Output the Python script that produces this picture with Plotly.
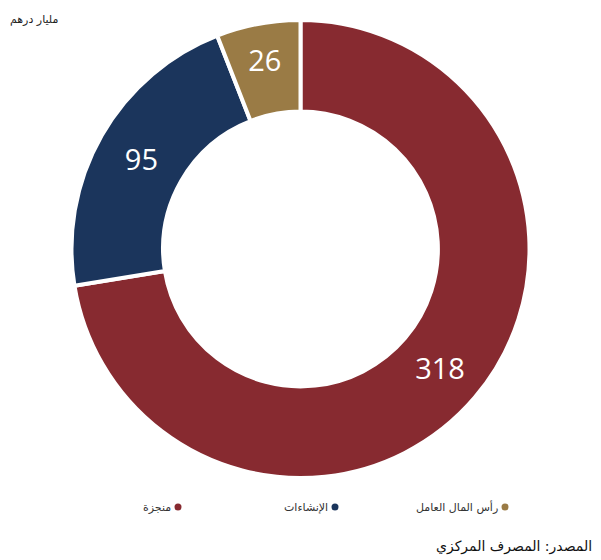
import plotly.graph_objects as go

labels = ["منجزة", "الإنشاءات", "رأس المال العامل"]
values = [318, 95, 26]
colors = ["#872a30", "#1b355c", "#9a7b45"]

W, H = 601, 560

fig = go.Figure(go.Pie(
    labels=labels, values=values, hole=0.6, sort=False, direction="clockwise",
    rotation=0,
    marker=dict(colors=colors, line=dict(color="white", width=4)),
    textinfo="value", textposition="inside", insidetextorientation="horizontal",
    textfont=dict(color="white", size=29, family="Open Sans"),
    domain=dict(x=[71 / W, 530 / W], y=[1 - 478 / H, 1 - 20 / H]),
    showlegend=False, hoverinfo="label+value",
))

anns = [
    dict(text="مليار درهم", x=60 / W, y=1 - 20 / H, xanchor="right", yanchor="middle",
         font=dict(size=11, color="#222", family="DejaVu Sans")),
    dict(text="المصدر: المصرف المركزي", x=594 / W, y=1 - 546 / H, xanchor="right", yanchor="middle",
         font=dict(size=14, color="#111", family="DejaVu Sans")),
]
legend_pos = [178, 335, 505]
for lab, col, mx in zip(labels, colors, legend_pos):
    anns.append(dict(text=lab, x=(mx - 5) / W, y=1 - 507 / H, xanchor="right", yanchor="middle",
                     font=dict(size=11, color="#333", family="DejaVu Sans")))
shapes = []
for col, mx in zip(colors, legend_pos):
    shapes.append(dict(type="circle", xref="paper", yref="paper",
                       x0=(mx - 3.5) / W, x1=(mx + 3.5) / W,
                       y0=1 - (507 + 3.5) / H, y1=1 - (507 - 3.5) / H,
                       fillcolor=col, line=dict(width=0)))
for a in anns:
    a.update(xref="paper", yref="paper", showarrow=False)

fig.update_layout(width=W, height=H, margin=dict(l=0, r=0, t=0, b=0),
                  paper_bgcolor="white", plot_bgcolor="white",
                  annotations=anns, shapes=shapes)
fig.write_html("out.html")
